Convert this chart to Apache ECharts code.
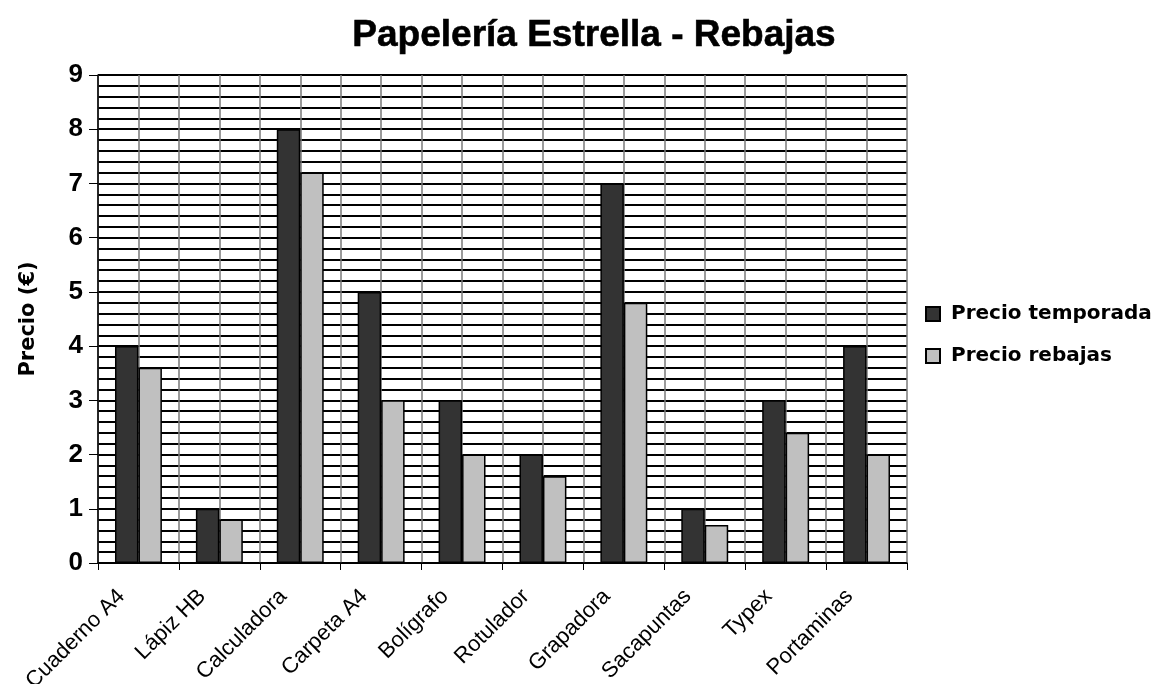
<!DOCTYPE html>
<html>
<head>
<meta charset="utf-8">
<script src="https://cdn.jsdelivr.net/npm/echarts@6/dist/echarts.min.js"></script>
<style>html,body{margin:0;padding:0;background:#fff}#c{width:1160px;height:684px}</style>
</head>
<body>
<div id="c"></div>
<script>
var categories = ['Cuaderno A4','Lápiz HB','Calculadora','Carpeta A4','Bolígrafo','Rotulador','Grapadora','Sacapuntas','Typex','Portaminas'];
var precioTemporada = [4, 1, 8, 5, 3, 2, 7, 1, 3, 4];
var precioRebajas = [3.6, 0.8, 7.2, 3, 2, 1.6, 4.8, 0.7, 2.4, 2];
var yMin = 0, yMax = 9;

var chart = echarts.init(document.getElementById('c'), null, {renderer: 'canvas'});
var font = 'Liberation Sans, Arial, sans-serif';
var wide = 'DejaVu Sans, sans-serif';
chart.setOption({
  animation: false,
  backgroundColor: '#fff',
  title: {
    text: 'Papelería Estrella - Rebajas',
    left: 589, textAlign: 'center', top: 12,
    textStyle: {fontFamily: font, fontWeight: 'bold', fontSize: 37, color: '#000',
      textBorderColor: '#000', textBorderWidth: 0.6}
  },
  legend: {
    orient: 'vertical', left: 925, top: 304, itemGap: 22, padding: 0,
    itemWidth: 14, itemHeight: 14, icon: 'rect',
    textStyle: {fontFamily: wide, fontWeight: 'bold', fontSize: 20, color: '#000', padding: [0, 0, 0, 6]},
    data: ['Precio temporada', 'Precio rebajas']
  },
  grid: {left: 98, right: 253, top: 75, bottom: 121, outerBoundsMode: 'none', containLabel: false},
  xAxis: [{
    type: 'category', data: categories,
    axisLine: {lineStyle: {color: '#000', width: 1.5}},
    axisTick: {show: true, length: 7, lineStyle: {color: '#000'}},
    axisLabel: {rotate: 45, fontFamily: font, fontSize: 22, color: '#000', margin: 13, interval: 0,
      padding: [0, 24, 0, 0], hideOverlap: false},
    splitLine: {show: false}
  }, {
    type: 'value', min: 0, max: categories.length * 2, interval: 1, position: 'top',
    axisLine: {show: false}, axisTick: {show: false}, axisLabel: {show: false},
    splitLine: {show: true, lineStyle: {color: '#7a7a7a', width: 1.5}}
  }],
  yAxis: {
    type: 'value', min: yMin, max: yMax, interval: 1,
    name: 'Precio (€)', nameLocation: 'middle', nameGap: 59, nameRotate: 90,
    nameTextStyle: {fontFamily: wide, fontWeight: 'bold', fontSize: 21, color: '#000'},
    axisLine: {show: true, lineStyle: {color: '#000', width: 1.5}},
    axisTick: {show: true, inside: false, length: 9, lineStyle: {color: '#000'}},
    axisLabel: {fontFamily: font, fontWeight: 'bold', fontSize: 26, color: '#000', margin: 15},
    splitLine: {show: true, lineStyle: {color: '#000', width: 2}},
    minorTick: {show: false, splitNumber: 5},
    minorSplitLine: {show: true, lineStyle: {color: '#000', width: 2}}
  },
  series: [{
    name: 'Precio temporada', type: 'bar', data: precioTemporada,
    barGap: '0%', barCategoryGap: '42%',
    itemStyle: {color: '#333333', borderColor: '#000', borderWidth: 1.5}
  }, {
    name: 'Precio rebajas', type: 'bar', data: precioRebajas,
    barGap: '0%', barCategoryGap: '42%',
    itemStyle: {color: '#c0c0c0', borderColor: '#000', borderWidth: 1.5}
  }]
});
</script>
</body>
</html>
